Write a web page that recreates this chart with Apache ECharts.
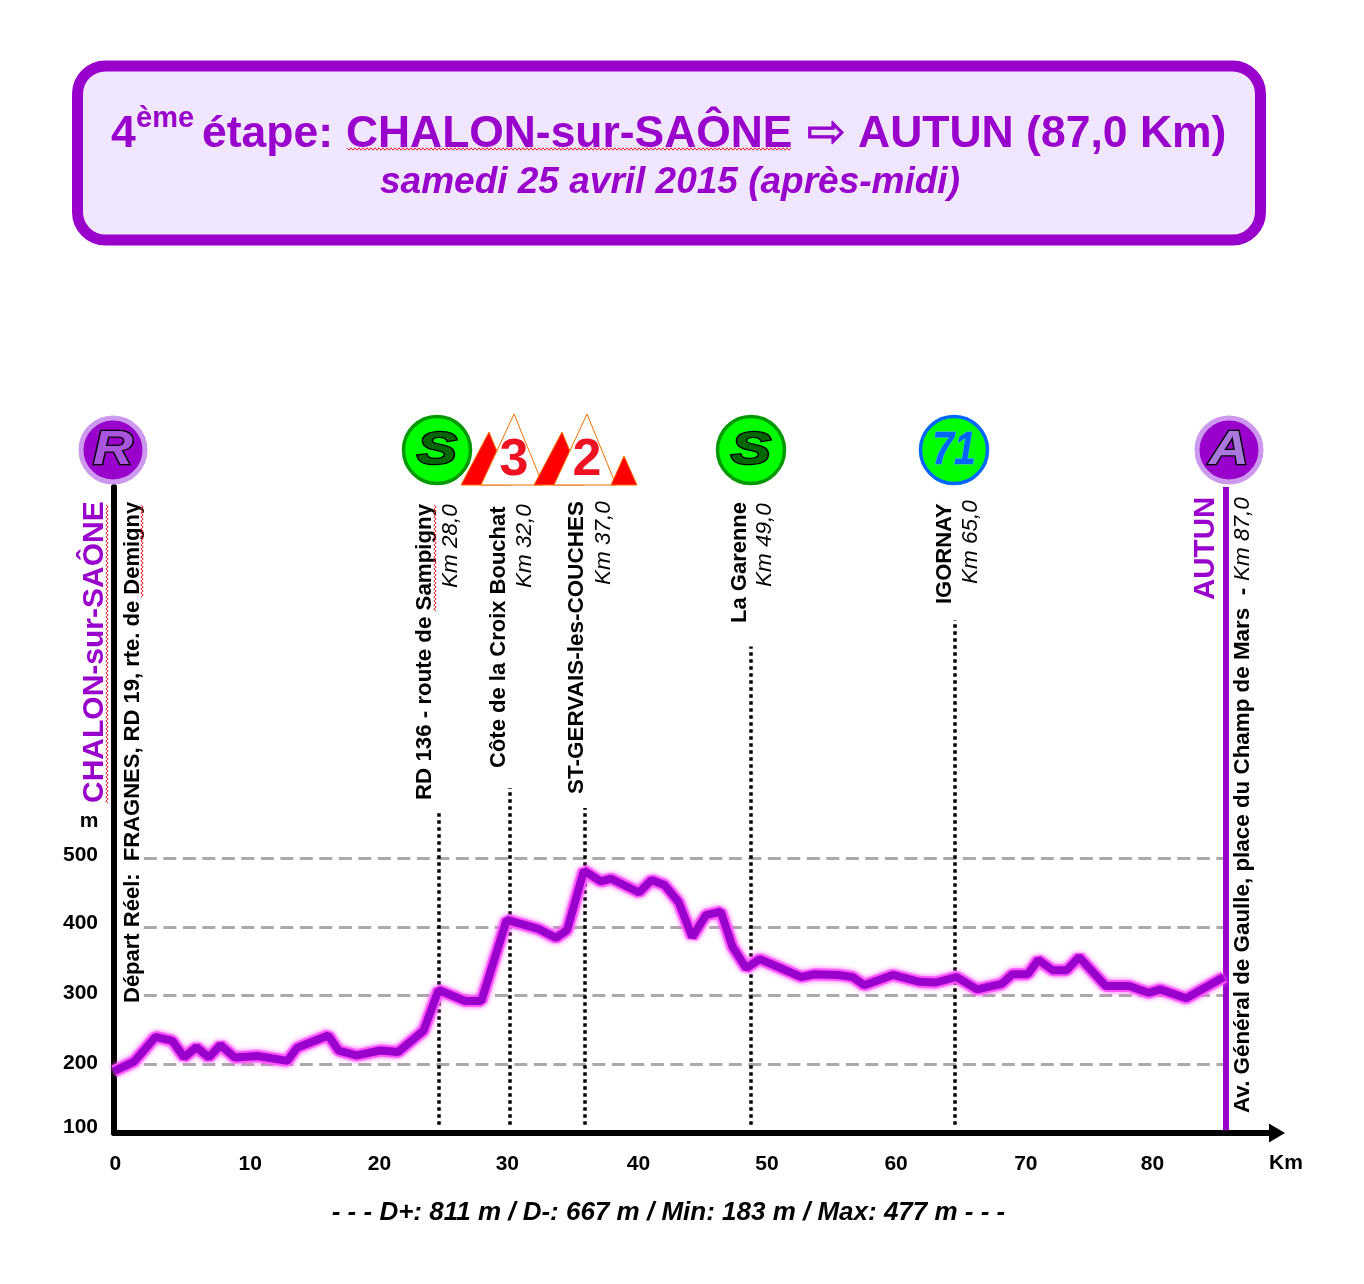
<!DOCTYPE html>
<html>
<head>
<meta charset="utf-8">
<style>html,body{margin:0;background:#fff}#chart{width:1364px;height:1284px}</style>
<script src="https://cdn.jsdelivr.net/npm/echarts@6/dist/echarts.min.js"></script>
</head>
<body>
<div id="chart"></div>
<script>
// profile
const kmPoints = [0,1.55,3.2,4.5,5.4,6.35,7.3,8.2,9.3,11.05,13.35,14.1,16.5,17.3,18.7,20.5,21.9,23.85,25,27.05,28.3,30.25,32.7,34.05,34.9,36.2,37.5,38.3,40.45,41.4,42.4,43.5,44.55,45.6,46.75,47.65,48.7,49.75,52.95,53.95,55.8,56.9,57.8,60,62.05,63.3,64.9,66.5,68.4,69.2,70.4,71.2,72.3,73.4,74.35,76.4,78.2,79.7,80.6,82.6,85.5];
const altitudes = [190,204,240,234,210,225,210,228,210,212,205,224,242,220,213,220,218,249,308,292,292,410,397,384,395,482,466,470,450,468,461,436,385,417,422,371,340,353,327,331,330,327,315,330,320,319,327,309,317,331,331,352,337,337,356,314,314,304,309,296,327];

// tick labels sit a bit off their true place in the original, so they keep their own positions
const xTickLabels = ['0','10','20','30','40','50','60','70','80'];
const xTickPositions = [0.1,10.5,20.45,30.3,40.4,50.3,60.25,70.25,80];
const yTickLabels = ['100','200','300','400','500'];
const yTickPositions = [108.5,201.5,304,405,504];
const gridLevels = [200,300,400,500];
const gridStartKm = 2.3;

const stopKm = [25,30.5,36.25,49.07,64.8];
const stopTops = [567,602,573,808,846];
const finishKm = 85.65;

const PURPLE = '#9900cc';
const FONT = '"Liberation Sans", Arial, sans-serif';

function txt(x, y, text, size, opts) {
  opts = opts || {};
  return {
    type: 'text', x: x, y: y, rotation: opts.rot ? Math.PI / 2 : 0, z: opts.z || 20,
    scaleX: opts.sx || 1,
    style: {
      text: text, fill: opts.fill || '#000', stroke: opts.stroke, lineWidth: opts.lw || 0,
      font: (opts.style || '') + ' ' + (opts.weight || 'bold') + ' ' + size + 'px ' + (opts.family || FONT),
      align: opts.align || 'left', verticalAlign: 'middle'
    }
  };
}
// spell-check squiggle
function wavy(x1, y1, x2, y2) {
  const pts = [];
  const vertical = x1 === x2;
  const len = vertical ? Math.abs(y2 - y1) : Math.abs(x2 - x1);
  for (let i = 0; i <= len; i += 2) {
    const off = (i / 2) % 2 ? 1.2 : -1.2;
    pts.push(vertical ? [x1 + off, y1 + i] : [x1 + i, y1 + off]);
  }
  return { type: 'polyline', z: 21, shape: { points: pts }, style: { stroke: '#e8202a', lineWidth: 1, fill: null } };
}
function badge(cx, label, fill, ring, ringW, letterFill, letterStroke, lw, r, size, sx) {
  return [
    { type: 'circle', z: 20, shape: { cx: cx, cy: 450, r: r }, style: { fill: fill, stroke: ring, lineWidth: ringW } },
    txt(cx, 451, label, size, { align: 'center', style: 'italic', fill: letterFill, stroke: letterStroke, lw: lw, z: 21, sx: sx })
  ];
}
function tri(points, fill) {
  return { type: 'polygon', z: 20, shape: { points: points }, style: { fill: fill, stroke: '#f07000', lineWidth: 1 } };
}
const kmOpts = { rot: 1, style: 'italic', weight: 'normal' };

const graphics = [
  { type: 'rect', z: 1, shape: { x: 77.5, y: 66, width: 1183, height: 174, r: 28 }, style: { fill: '#f0e6fe', stroke: PURPLE, lineWidth: 11 } },
  txt(111, 135, '4', 44.5, { fill: PURPLE }),
  txt(136, 119, 'ème', 29, { fill: PURPLE }),
  txt(202, 135, 'étape:', 44.5, { fill: PURPLE }),
  txt(346, 135, 'CHALON-sur-SAÔNE', 44.4, { fill: PURPLE }),
  wavy(347, 149, 791, 149),
  txt(807, 135, '⇨', 46, { fill: PURPLE, stroke: PURPLE, lw: 1, family: '"DejaVu Sans"', weight: 'normal' }),
  txt(858, 135, 'AUTUN (87,0 Km)', 44.5, { fill: PURPLE }),
  txt(380, 183, 'samedi 25 avril 2015 (après-midi)', 37, { fill: PURPLE, style: 'italic' }),

  // rotated place names
  txt(94.5, 803, 'CHALON-sur-SAÔNE', 30, { rot: 1, fill: PURPLE }),
  wavy(107, 505, 107, 803),
  txt(133, 1003, 'Départ Réel:  FRAGNES, RD 19, rte. de Demigny', 22, { rot: 1 }),
  wavy(142, 505, 142, 598),
  txt(425, 800, 'RD 136 - route de Sampigny', 22.3, { rot: 1 }),
  wavy(435, 505, 435, 612),
  txt(451, 588, 'Km 28,0', 22.5, kmOpts),
  txt(499, 768, 'Côte de la Croix Bouchat', 22, { rot: 1 }),
  txt(525, 588, 'Km 32,0', 22.5, kmOpts),
  txt(577, 794, 'ST-GERVAIS-les-COUCHES', 22.5, { rot: 1 }),
  txt(604, 585, 'Km 37,0', 22.5, kmOpts),
  txt(740, 623, 'La Garenne', 22, { rot: 1 }),
  txt(765, 587, 'Km 49,0', 22.5, kmOpts),
  txt(945, 604, 'IGORNAY', 22, { rot: 1 }),
  txt(971, 584, 'Km 65,0', 22.5, kmOpts),
  txt(1206, 600, 'AUTUN', 29.5, { rot: 1, fill: PURPLE }),
  txt(1243, 1113, 'Av. Général de Gaulle, place du Champ de Mars  -', 22.4, { rot: 1 }),
  txt(1243, 581, 'Km 87,0', 22.5, kmOpts),

  txt(89, 821, 'm', 21, { align: 'center' }),
  txt(1286, 1163, 'Km', 21, { align: 'center' }),
  txt(668.5, 1213, '- - - D+: 811 m / D-: 667 m / Min: 183 m / Max: 477 m - - -', 26, { align: 'center', style: 'italic' }),

  // climb markers
  tri([[461,485],[489,432],[511,485]], '#ff0000'),
  tri([[481,485],[514,414],[543,485]], '#ffffff'),
  tri([[534,485],[562,432],[584,485]], '#ff0000'),
  tri([[554,485],[587,414],[616,485]], '#ffffff'),
  tri([[611,485],[624,456],[637,485]], '#ff0000'),
  txt(514, 461, '3', 52, { align: 'center', fill: '#ee1122', z: 22 }),
  txt(587, 461, '2', 52, { align: 'center', fill: '#ee1122', z: 22 })
].concat(
  badge(113, 'R', PURPLE, '#cc99ee', 5, '#aa55dd', '#000', 2.5, 32, 48, 1.15),
  badge(437, 'S', '#00ff00', '#009900', 3.5, '#006600', '#000', 2.5, 33.5, 46, 1.3),
  badge(751, 'S', '#00ff00', '#009900', 3.5, '#006600', '#000', 2.5, 33.5, 46, 1.3),
  badge(954, '71', '#00ff00', '#0066ff', 3.5, '#0066ff', '#66aaff', 1, 33.5, 46, 0.85),
  badge(1229, 'A', PURPLE, '#cc99ee', 5, '#aa77dd', '#000', 2.5, 32, 48, 1.15)
);

const profile = kmPoints.map((k, i) => [k, altitudes[i]]);

const chart = echarts.init(document.getElementById('chart'), null, { renderer: 'canvas' });
chart.setOption({
  animation: false,
  backgroundColor: '#fff',
  grid: { left: 114, right: 88, top: 487, bottom: 151 },
  xAxis: {
    type: 'value', min: 0, max: 89.52,
    axisLine: { show: true, onZero: false, symbol: ['none', 'triangle'], symbolSize: [19, 16], symbolOffset: [0, 1], lineStyle: { color: '#000', width: 6 } },
    axisTick: { show: false },
    splitLine: { show: false },
    axisLabel: {
      customValues: xTickPositions,
      formatter: v => xTickLabels[xTickPositions.indexOf(v)],
      margin: 21, color: '#000', fontFamily: FONT, fontWeight: 'bold', fontSize: 21
    }
  },
  yAxis: {
    type: 'value', min: 100, max: 1040,
    axisLine: { show: true, onZero: false, lineStyle: { color: '#000', width: 6 } },
    axisTick: { show: false },
    splitLine: { show: false },
    axisLabel: {
      customValues: yTickPositions,
      formatter: v => yTickLabels[yTickPositions.indexOf(v)],
      margin: 16, color: '#000', fontFamily: FONT, fontWeight: 'bold', fontSize: 21
    }
  },
  graphic: graphics,
  series: [
    {
      // pink halo under the profile
      type: 'line', silent: true, symbol: 'none', z: 2,
      data: profile,
      lineStyle: { color: '#ff55ff', width: 12, shadowColor: '#ff55ff', shadowBlur: 5 }
    },
    {
      type: 'line', silent: true, symbol: 'none', z: 3,
      data: profile,
      lineStyle: { color: PURPLE, width: 8 },
      markLine: {
        silent: true, symbol: 'none', animation: false, z: 1,
        label: { show: false },
        data: gridLevels.map(v => [
          { coord: [gridStartKm, v], lineStyle: { color: '#aaa', width: 3, type: [13, 6.5] } },
          { coord: [finishKm, v] }
        ]).concat(stopKm.map((k, i) => [
          { coord: [k, 112], lineStyle: { color: '#000', width: 3.5, type: [3.5, 3.5] } },
          { coord: [k, stopTops[i]] }
        ])).concat([[
          { coord: [finishKm, 104], lineStyle: { color: PURPLE, width: 6, type: 'solid' } },
          { coord: [finishKm, 1040] }
        ]])
      }
    }
  ]
});
</script>
</body>
</html>
